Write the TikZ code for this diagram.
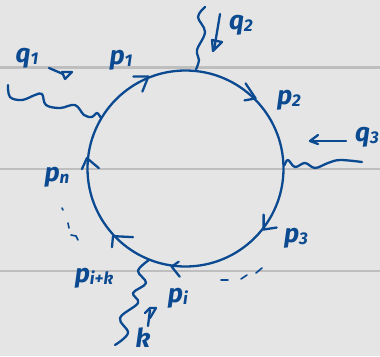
\documentclass[tikz,border=0pt]{standalone}
\usepackage{fontspec}
\setmainfont{Fira Sans}
\definecolor{ink}{HTML}{0B4A90}
\definecolor{paper}{HTML}{E5E5E5}
\definecolor{rule}{HTML}{BEBEBE}
\newcommand{\lab}[2]{\textit{#1}\raisebox{-0.2ex}{\fontsize{17}{17}\selectfont\textit{#2}}}
\tikzset{
  ink line/.style={draw=ink,line width=2.3pt,line cap=round,line join=round},
  wiggle/.style={ink line,smooth,tension=0.6},
  barb/.style={ink line},
  handlabel/.style={text=ink,font=\fontsize{26}{26}\selectfont\bfseries,inner sep=0pt},
  notebook/.style={draw=rule,line width=2.4pt},
  dotmark/.style={draw=ink,line width=1.6pt,line cap=round}
}
\begin{document}
\begin{tikzpicture}[x=1pt,y=-1pt]
\useasboundingbox (0,0) rectangle (380,356);
\fill[paper] (0,0) rectangle (380,356);
\draw[notebook] (0,67.5) -- (380,67.5);
\draw[notebook] (0,169) -- (380,169);
\draw[notebook] (0,271) -- (380,271);
% loop
\node[circle,ink line,minimum size=196pt,inner sep=0pt] (loop) at (185.5,168.5) {};
% wavy legs
\draw[wiggle] plot coordinates {(8,85) (10,97) (22,100) (35,95) (42,94) (46,105) (60,108) (75,105) (84,115) (92,117) (97,113) (loop.149)};
\draw[wiggle] plot coordinates {(205,7) (198,17) (205,32) (197,50) (199,60) (loop.84)};
\draw[wiggle] plot coordinates {(loop.2) (288,160) (295,167) (305,163) (315,168) (328,163) (340,160) (362,162)};
\draw[wiggle] plot coordinates {(loop.248) (138,271) (146,283) (133,293) (138,303) (120,318) (128,333) (115,345)};
% arrows on the loop
\draw[barb] (loop.112) +(-15,0) -- (loop.112) -- +(-6,15);
\draw[barb] (loop.45) +(-10,-15) -- (loop.45) -- +(-11,2);
\draw[barb] (loop.-38) +(0,-15) -- (loop.-38) -- +(13,-2);
\draw[barb] (loop.262.6) +(7,-5) -- (loop.262.6) -- +(8,10);
\draw[barb] (loop.223) +(20,1) -- (loop.223) -- +(-1,11);
\draw[barb] (loop.174.5) +(-5,11) -- (loop.174.5) -- +(12,10);
% momentum arrows
\coordinate (qa) at (49,68); \coordinate (qb) at (63,74);
\draw[ink line] (qa) -- (qb);
\draw[ink line] (62,72) -- (72,72) -- (65,79) -- cycle;
\coordinate (qc) at (220,14); \coordinate (qd) at (214,50);
\draw[ink line] (qc) -- (qd);
\draw[ink line] (212,40) -- (222,42) -- (213,51) -- cycle;
\coordinate (qe) at (346,141); \coordinate (qf) at (310,141);
\draw[ink line] (qe) -- (qf);
\draw[ink line] (318,135) -- (qf) -- (318,144);
\coordinate (qg) at (148,326); \coordinate (qh) at (150,310);
\draw[ink line] (qg) -- (qh);
\draw[ink line] (145,313) -- (150,308) -- (156,308) -- (150,318);
% dots
\draw[dotmark] (62,208) -- (63,210);
\draw[dotmark] (68,223) -- (69,228);
\draw[dotmark] (71,235) -- (76,236) -- (78,240);
\draw[dotmark] (221,280) -- (228,280);
\draw[dotmark] (241,279) -- (247,275);
\draw[dotmark] (256,273) -- (262,268);
% labels
\node[handlabel] (lq1) at (27,58) {\lab{q}{1}};
\node[handlabel] (lp1) at (121,60) {\lab{p}{1}};
\node[handlabel] (lq2) at (241,25) {\lab{q}{2}};
\node[handlabel] (lp2) at (289,100) {\lab{p}{2}};
\node[handlabel,anchor=east] (lq3) at (379,137) {\lab{q}{3}};
\node[handlabel] (lp3) at (296,238) {\lab{p}{3}};
\node[handlabel] (lpn) at (57,177) {\lab{p}{n}};
\node[handlabel] (lpik) at (94,278) {\lab{p}{i+k}};
\node[handlabel] (lpi) at (178,298) {\lab{p}{i}};
\node[handlabel] (lk) at (143,338) {\textit{k}};
\end{tikzpicture}
\end{document}
